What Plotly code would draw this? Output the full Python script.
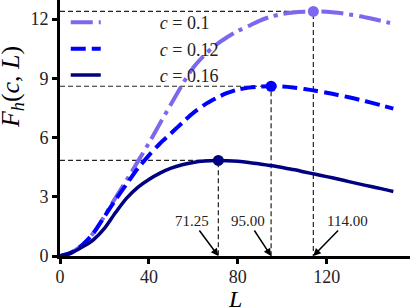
import plotly.graph_objects as go

# ---- data ----
L = [0, 5, 10, 15, 20, 25, 30, 35, 40, 45, 50, 55, 60, 65, 70, 75,
     80, 85, 90, 95, 100, 105, 110, 115, 120, 125, 130, 135, 140, 145, 150]

F_c010 = [0, 0.17, 0.55, 1.16, 2.02, 2.95, 3.85, 4.78, 5.72, 6.72, 7.70, 8.68,
          9.55, 10.18, 10.68, 11.07, 11.40, 11.66, 11.93, 12.13, 12.26, 12.34,
          12.38, 12.39, 12.37, 12.32, 12.24, 12.15, 12.03, 11.90, 11.77]

F_c012 = [0, 0.17, 0.55, 1.15, 2.00, 2.85, 3.65, 4.43, 5.10, 5.70, 6.22, 6.75,
          7.25, 7.66, 7.98, 8.25, 8.43, 8.53, 8.58, 8.60, 8.59, 8.54, 8.46,
          8.37, 8.27, 8.16, 8.04, 7.91, 7.77, 7.62, 7.47]

F_c016 = [0, 0.15, 0.45, 0.82, 1.40, 2.20, 2.93, 3.48, 3.88, 4.20, 4.45, 4.62,
          4.74, 4.81, 4.84, 4.83, 4.80, 4.74, 4.66, 4.58, 4.48, 4.38, 4.26,
          4.14, 4.02, 3.90, 3.77, 3.64, 3.52, 3.40, 3.27]

c_values = ["0.1", "0.12", "0.16"]
series_values = [F_c010, F_c012, F_c016]

peak_L = [114.00, 95.00, 71.25]
peak_F = [12.39, 8.60, 4.84]

x_ticks = [0, 40, 80, 120]
y_ticks = [0, 3, 6, 9, 12]

# ---- styling ----
FONT = "Liberation Serif"
colors = ["#7B68EE", "#0000FF", "#000080"]
dashes = ["22px,6px,4px,6px", "15px,6px", "solid"]
widths = [4, 4, 3.5]
label_offsets = [(34, -35), (-23, -35), (-26, -35)]
PAD = "\u00a0" * 12

fig = go.Figure()

# reference dashed lines (behind curves)
for pl, pf in zip(peak_L, peak_F):
    fig.add_trace(go.Scatter(x=[0, pl, pl], y=[pf, pf, 0], mode="lines",
                             line=dict(color="#222222", width=1.2, dash="5px,3px"),
                             showlegend=False, hoverinfo="skip"))

for cv, vals, col, dsh, w in zip(c_values, series_values, colors, dashes, widths):
    fig.add_trace(go.Scatter(x=L, y=vals, mode="lines", name=f"{PAD}<i>c</i> = {cv}",
                             line=dict(color=col, width=w, dash=dsh, shape="spline",
                                       smoothing=0.8)))

for pl, pf, col in zip(peak_L, peak_F, colors):
    fig.add_trace(go.Scatter(x=[pl], y=[pf], mode="markers",
                             marker=dict(color=col, size=11),
                             showlegend=False))

for pl, (ax, ay) in zip(peak_L, label_offsets):
    fig.add_annotation(x=pl, y=0, xref="x", yref="y", text=f"{pl:.2f}",
                       showarrow=True, arrowhead=2, arrowsize=1, arrowwidth=1.5,
                       arrowcolor="black", ax=ax, ay=ay,
                       font=dict(family=FONT, size=15, color="#222222"))

# axis titles
fig.add_annotation(x=0.5, y=-0.168, xref="paper", yref="paper", text="<i>L</i>",
                   showarrow=False, font=dict(family=FONT, size=24, color="black"),
                   xanchor="center", yanchor="middle")
fig.add_annotation(x=-0.137, y=0.66, xref="paper", yref="paper",
                   text="<i>F</i><sub><i>h</i></sub>(<i>c</i>, <i>L</i>)",
                   textangle=-90, showarrow=False,
                   font=dict(family=FONT, size=26, color="black"),
                   xanchor="center", yanchor="middle")

axis_common = dict(showline=True, linewidth=3, linecolor="black", ticks="outside",
                   ticklen=5, tickwidth=3, tickcolor="black", showgrid=False,
                   zeroline=False, tickfont=dict(family=FONT, size=18, color="#222222"))

fig.update_layout(
    width=410, height=308,
    margin=dict(l=60, r=0, t=0, b=52),
    paper_bgcolor="white", plot_bgcolor="white",
    xaxis=dict(range=[0, 157.5], tickvals=x_ticks, ticklabelstandoff=-3, **axis_common),
    yaxis=dict(range=[0, 12.97], tickvals=y_ticks, **axis_common),
    legend=dict(x=0.0164, y=0.984, xanchor="left", yanchor="top",
                bgcolor="rgba(0,0,0,0)", font=dict(family=FONT, size=18, color="#222222")),
    showlegend=True,
)

fig.write_html("out.html", config={"displayModeBar": False},
               post_script="document.body.style.margin='0';")
